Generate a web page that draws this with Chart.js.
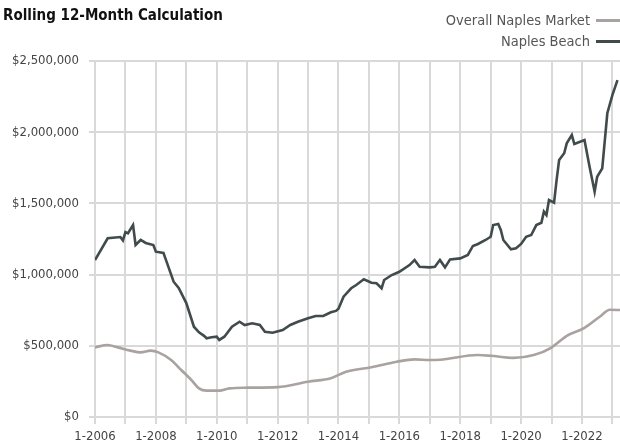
<!DOCTYPE html>
<html>
<head>
<meta charset="utf-8">
<script src="https://cdn.jsdelivr.net/npm/chart.js@4"></script>
<style>
  body { margin: 0; background: #fff; }
  #wrap { position: relative; width: 620px; height: 446px; overflow: hidden; font-family: 'Liberation Sans Narrow', 'DejaVu Sans Condensed', sans-serif; }
  #title { position: absolute; left: 3px; top: 6px; font-size: 15px; font-weight: bold; color: #111; white-space: nowrap; }
  #legend { position: absolute; right: 0; top: 10px; }
  .leg { font-size: 14.5px; line-height: 21px; color: #555; white-space: nowrap; display: flex; align-items: center; justify-content: flex-end; }
  .leg span.ln { display: inline-block; width: 24px; height: 3px; margin-left: 6px; }
  canvas { position: absolute; left: 0; top: 0; }
</style>
</head>
<body>
<div id="wrap">
  <canvas id="chart" width="620" height="446"></canvas>
  <div id="title">Rolling 12-Month Calculation</div>
  <div id="legend"></div>
</div>
<script>
// months counted from 1-2006
const startYear = 2006;

const beachMonths = [0, 5, 10, 11, 12, 13, 15, 16, 18, 20, 23, 24, 27, 28, 31, 33, 36, 39, 41, 43,
  44, 46, 48, 49, 51, 54, 57, 59, 62, 65, 67, 70, 74, 77, 80, 84, 87, 90, 93, 95,
  96, 98, 101, 103, 106, 109, 111, 113, 114, 117, 120, 124, 126, 128, 132, 134, 136, 138, 140, 144,
  147, 149, 151, 154, 156, 157, 159, 160, 161, 164, 166, 168, 170, 172, 174, 176, 177, 178, 179, 181,
  182, 183, 185, 186, 188, 189, 193, 195, 197, 198, 200, 202, 204, 206];
const beachValues = [1102000, 1255000, 1264000, 1240000, 1299000, 1290000, 1348000, 1208000, 1243000, 1222000,
  1208000, 1161000, 1152000, 1102000, 950000, 906000, 800000, 634000, 595000, 570000,
  553000, 560000, 564000, 541000, 564000, 634000, 669000, 646000, 658000, 646000,
  599000, 592000, 611000, 646000, 669000, 693000, 709000, 709000, 735000, 745000,
  760000, 845000, 904000, 927000, 967000, 943000, 939000, 904000, 962000, 997000,
  1020000, 1067000, 1102000, 1055000, 1051000, 1055000, 1102000, 1051000, 1107000, 1114000,
  1138000, 1201000, 1215000, 1243000, 1266000, 1348000, 1355000, 1313000, 1243000, 1178000,
  1185000, 1215000, 1266000, 1278000, 1348000, 1364000, 1442000, 1418000, 1524000, 1505000,
  1664000, 1805000, 1852000, 1922000, 1980000, 1917000, 1945000, 1758000, 1582000, 1687000,
  1746000, 2133000, 2261000, 2366000];

const overallMonths = [0, 5, 9, 14, 18, 22, 25, 30, 34, 38, 41, 44, 49, 53, 60, 72, 84, 93, 99, 109,
  119, 126, 132, 136, 151, 156, 165, 173, 180, 186, 193, 199, 203, 207];
const overallValues = [489000, 506000, 489000, 466000, 454000, 466000, 454000, 400000, 330000, 260000,
  201000, 185000, 185000, 201000, 206000, 210000, 248000, 272000, 318000, 349000,
  388000, 405000, 400000, 402000, 435000, 430000, 415000, 435000, 488000, 570000,
  626000, 704000, 753000, 751000];

const yTicks = [0, 500000, 1000000, 1500000, 2000000, 2500000];

function pairs(xs, ys) {
  return xs.map((x, i) => ({ x: x, y: ys[i] }));
}

function money(v) {
  return '$' + String(v).replace(/\B(?=(\d{3})+(?!\d))/g, ',');
}

const axisFont = { family: "'Liberation Sans Narrow', 'DejaVu Sans Condensed', sans-serif", size: 13 };
const gridColor = '#d9d9d9';

// html legend built from the datasets once the chart has drawn
let legendDone = false;
const htmlLegend = {
  id: 'htmlLegend',
  afterDraw(chart) {
    if (legendDone) return;
    legendDone = true;
    const box = document.getElementById('legend');
    box.innerHTML = '';
    chart.data.datasets.forEach(ds => {
      const row = document.createElement('div');
      row.className = 'leg';
      row.textContent = ds.label;
      const ln = document.createElement('span');
      ln.className = 'ln';
      ln.style.background = ds.borderColor;
      row.appendChild(ln);
      box.appendChild(row);
    });
  }
};

let ctx = document.getElementById('chart').getContext('2d');
let chart = new Chart(ctx, {
    type: 'line',
    data: {
        datasets: [{
            label: 'Overall Naples Market',
            data: pairs(overallMonths, overallValues),
            borderColor: '#aaa2a0',
            borderWidth: 2.6,
            pointRadius: 0,
            cubicInterpolationMode: 'monotone'
        }, {
            label: 'Naples Beach',
            data: pairs(beachMonths, beachValues),
            borderColor: '#414b4b',
            borderWidth: 2.6,
            pointRadius: 0,
            tension: 0
        }]
    },
    options: {
        responsive: false,
        animation: false,
        layout: { padding: { top: 61, right: 0, left: 0, bottom: 0 } },
        plugins: { legend: { display: false }, tooltip: { enabled: false } },
        scales: {
            x: {
                type: 'linear',
                position: 'bottom',
                min: 0,
                max: 207,
                grid: { color: gridColor, lineWidth: 2, tickLength: 7 },
                border: { color: gridColor, width: 2 },
                ticks: {
                    stepSize: 12,
                    includeBounds: false,
                    autoSkip: false,
                    maxRotation: 0,
                    padding: 5,
                    color: '#444',
                    font: axisFont,
                    callback: v => (v % 24 === 0) ? '1-' + (startYear + v / 12) : ''
                },
                afterFit: s => { s.height = 29; }
            },
            y: {
                min: 0,
                max: 2500000,
                afterBuildTicks: s => { s.ticks = yTicks.map(v => ({ value: v })); },
                grid: { color: gridColor, lineWidth: 2, tickLength: 6 },
                border: { color: gridColor, width: 2 },
                ticks: {
                    padding: 10,
                    color: '#444',
                    font: axisFont,
                    callback: v => money(v)
                },
                afterFit: s => { s.width = 95; }
            }
        }
    },
    plugins: [htmlLegend]
});
</script>
</body>
</html>
